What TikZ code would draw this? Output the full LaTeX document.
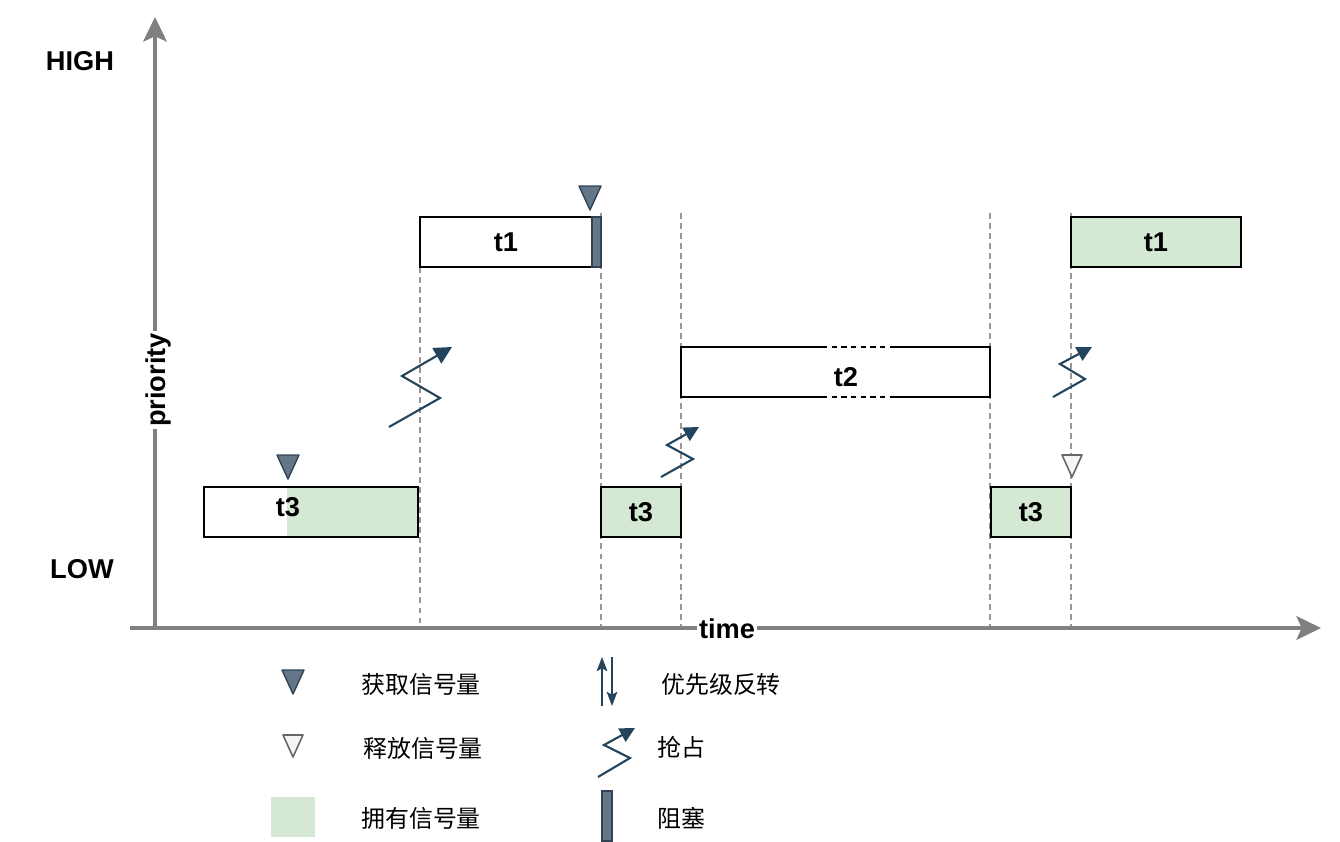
\documentclass[tikz,border=0pt]{standalone}
\usepackage{fontspec}
\setmainfont{Liberation Sans}
\newfontfamily\cjk{Noto Sans CJK SC}
\usetikzlibrary{arrows.meta}
\definecolor{axisgray}{RGB}{128,128,128}
\definecolor{guidegray}{RGB}{150,150,150}
\definecolor{ownfill}{HTML}{D5E8D4}
\definecolor{slatefill}{HTML}{647687}
\definecolor{slatedraw}{HTML}{314354}
\definecolor{navy}{HTML}{23445D}
\definecolor{relfill}{HTML}{F5F5F5}
\definecolor{reldraw}{HTML}{666666}

\begin{document}
\begin{tikzpicture}[x=0.02cm, y=-0.02cm,
    axis/.style={line width=2pt, axisgray, -{Stealth[length=14pt,width=13.5pt,inset=3pt]}},
    guide/.style={guidegray, line width=0.7pt, dash pattern=on 3.4pt off 2.3pt},
    task/.style={draw=black, line width=1.2pt, fill=white, minimum height=1cm, inner sep=0pt},
    lbl/.style={font=\fontsize{15.5}{18}\selectfont\bfseries},
    legend/.style={anchor=west, inner sep=0pt, font=\cjk\fontsize{13.6}{16}\selectfont},
    block/.style={draw=slatedraw, fill=slatefill, line width=0.8pt, minimum height=1cm, inner sep=0pt},
    preempt/.style={navy, line width=1.2pt, line join=miter, -{Triangle[length=10pt,width=10pt]}},
    smallpreempt/.style={preempt, -{Triangle[length=8.5pt,width=8.5pt]}},
    acquire/.pic={\draw[slatedraw, fill=slatefill, line width=0.8pt, line join=round] (-11,-12) -- (11,-12) -- (0,12) -- cycle;},
    release/.pic={\draw[reldraw, fill=relfill, line width=0.9pt, line join=round] (-10,-11) -- (10,-11) -- (0,11) -- cycle;}]
        \useasboundingbox (0,0) rectangle (1340,842);

        % Guides
        \foreach \gx/\gy in {420/267, 601/213, 681/213, 990/213, 1071/213}
            \draw[guide] (\gx,\gy) -- (\gx,628);

        % Axes
        \draw[axis] (155,630) -- (155,17);
        \draw[axis] (130,628) -- (1321,628);
        \node[lbl] (high) at (80,61) {HIGH};
        \node[lbl] (low) at (82,569) {LOW};
        \node[lbl, rotate=90, fill=white, inner sep=1pt] (prio) at (158,380) {priority};
        \node[lbl, fill=white, inner sep=1pt] (time) at (727,629) {time};

        % High priority task t1
        \node[task, lbl, minimum width=3.44cm] (t1a) at (506,242) {t1};
        \node[block, minimum width=0.18cm] (blk) at (596.5,242) {};
        \pic at (590,198) {acquire};
        \node[task, lbl, fill=ownfill, minimum width=3.4cm] (t1b) at (1156,242) {t1};

        % Middle priority task t2, cut in the middle
        \fill[white] (681,347) rectangle (990,397);
        \draw[line width=1.2pt] (822,347) -- (681,347) -- (681,397) -- (822,397);
        \draw[line width=1.2pt] (893,347) -- (990,347) -- (990,397) -- (893,397);
        \draw[line width=1.2pt, dash pattern=on 3pt off 2.5pt] (822,347) -- (893,347) (822,397) -- (893,397);
        \node[lbl] (t2) at (846,377) {t2};

        % Low priority task t3
        \fill[white] (204,487) rectangle (418,537);
        \fill[ownfill] (287,487) rectangle (418,537);
        \node[task, fill=none, minimum width=4.28cm] (t3a) at (311,512) {};
        \node[lbl] (t3alab) at (288,507) {t3};
        \pic at (288,467) {acquire};
        \node[task, lbl, fill=ownfill, minimum width=1.6cm] (t3b) at (641,512) {t3};
        \node[task, lbl, fill=ownfill, minimum width=1.6cm] (t3c) at (1031,512) {t3};
        \pic at (1072,466) {release};

        % Preemption
        \draw[preempt] (389,427) -- (440,398) -- (402,376) -- (452,347);
        \draw[smallpreempt] (661,477) -- (693,459) -- (667,445) -- (699,427);
        \draw[smallpreempt] (1053,397) -- (1085,379) -- (1060,364) -- (1092,347);

        % Legend
        \pic at (293,682) {acquire};
        \node[legend] (k1) at (361,684) {获取信号量};
        \pic at (293,746) {release};
        \node[legend] (k2) at (363,748) {释放信号量};
        \fill[ownfill] (271,797) rectangle (315,837);
        \node[legend] (k3) at (361,818) {拥有信号量};
        \draw[navy, line width=1.1pt, -{Stealth[length=8pt,width=6pt,inset=1.5pt]}] (602,706) -- (602,657);
        \draw[navy, line width=1.1pt, -{Stealth[length=8pt,width=6pt,inset=1.5pt]}] (612,657) -- (612,706);
        \node[legend] (k4) at (661,684) {优先级反转};
        \draw[smallpreempt] (598,777) -- (630,758) -- (604,745) -- (635,728);
        \node[legend] (k5) at (657,747) {抢占};
        \node[block, minimum width=0.2cm] (blkkey) at (607,816) {};
        \node[legend] (k6) at (657,818) {阻塞};
    \end{tikzpicture}
\end{document}
